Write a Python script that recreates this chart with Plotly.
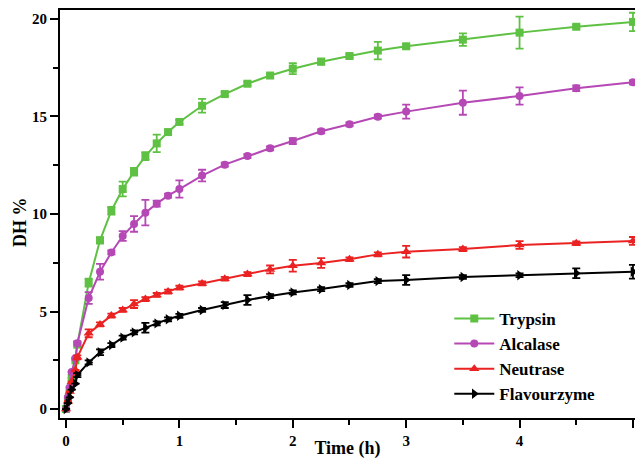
import plotly.graph_objects as go

time_h = [0, 0.017, 0.033, 0.05, 0.083, 0.1, 0.2, 0.3, 0.4, 0.5, 0.6, 0.7, 0.8, 0.9, 1.0,
          1.2, 1.4, 1.6, 1.8, 2.0, 2.25, 2.5, 2.75, 3.0, 3.5, 4.0, 4.5, 5.0]

trypsin = [0, 0.5, 1.0, 1.6, 2.5, 3.3, 6.48, 8.65, 10.17, 11.28, 12.17, 12.97, 13.62, 14.2, 14.72,
           15.55, 16.15, 16.68, 17.1, 17.45, 17.81, 18.1, 18.38, 18.6, 18.94, 19.3, 19.6, 19.85]
trypsin_err = [0, 0, 0, 0, 0, 0.1, 0.2, 0.15, 0.2, 0.38, 0.2, 0.2, 0.45, 0.1, 0.1,
               0.35, 0.1, 0.1, 0.1, 0.28, 0.15, 0.1, 0.45, 0.1, 0.32, 0.82, 0.1, 0.47]

alcalase = [0, 0.6, 1.1, 1.9, 2.6, 3.37, 5.69, 7.04, 8.03, 8.87, 9.49, 10.07, 10.53, 10.94, 11.28,
            11.97, 12.53, 12.97, 13.37, 13.74, 14.24, 14.6, 14.99, 15.25, 15.71, 16.05, 16.45, 16.75]
alcalase_err = [0, 0, 0, 0, 0, 0.1, 0.3, 0.4, 0.1, 0.25, 0.4, 0.65, 0.15, 0.1, 0.44,
                0.3, 0.1, 0.1, 0.1, 0.15, 0.1, 0.1, 0.1, 0.36, 0.62, 0.44, 0.15, 0.1]

neutrase = [0, 0.4, 0.9, 1.4, 2.0, 2.65, 3.88, 4.34, 4.79, 5.08, 5.38, 5.64, 5.85, 6.02, 6.22,
            6.44, 6.68, 6.92, 7.16, 7.35, 7.49, 7.68, 7.93, 8.07, 8.2, 8.41, 8.5, 8.62]
neutrase_err = [0, 0, 0, 0, 0, 0.1, 0.2, 0.1, 0.1, 0.1, 0.2, 0.1, 0.1, 0.1, 0.1,
                0.1, 0.1, 0.1, 0.2, 0.3, 0.25, 0.1, 0.1, 0.3, 0.1, 0.2, 0.1, 0.2]

flavourzyme = [0, 0.3, 0.6, 1.0, 1.3, 1.74, 2.39, 2.91, 3.28, 3.66, 3.93, 4.17, 4.39, 4.6, 4.78,
               5.08, 5.33, 5.59, 5.79, 5.98, 6.15, 6.36, 6.56, 6.62, 6.77, 6.86, 6.96, 7.04]
flavourzyme_err = [0, 0, 0, 0, 0, 0.1, 0.1, 0.15, 0.1, 0.1, 0.1, 0.25, 0.1, 0.1, 0.1,
                   0.1, 0.15, 0.25, 0.1, 0.1, 0.1, 0.1, 0.1, 0.25, 0.1, 0.1, 0.25, 0.35]

series = [
    ("Trypsin", trypsin, trypsin_err, "#5fc143", "square", 8),
    ("Alcalase", alcalase, alcalase_err, "#b548b5", "circle", 8),
    ("Neutrase", neutrase, neutrase_err, "#ea2222", "triangle-up", 9),
    ("Flavourzyme", flavourzyme, flavourzyme_err, "#000000", "triangle-right", 9),
]

FONT = "Liberation Serif"

fig = go.Figure()
for name, y, err, color, sym, size in series:
    fig.add_trace(go.Scatter(
        x=time_h, y=y, name="<b>%s</b>" % name, mode="lines+markers",
        line=dict(color=color, width=2),
        marker=dict(symbol=sym, size=size, color=color),
        error_y=dict(type="data", array=err, visible=True, color=color, thickness=1.8, width=4),
    ))

def tick_text(vals):
    return ["<b>%d</b>" % v for v in vals]

axis_common = dict(
    showline=True, linecolor="black", linewidth=2,
    ticks="outside", ticklen=8, tickwidth=2, tickcolor="black",
    showgrid=False, zeroline=False, automargin=False,
    tickfont=dict(family=FONT, size=15, color="black"),
    minor=dict(ticks="outside", ticklen=5, tickwidth=2, tickcolor="black"),
)

x_ticks = [0, 1, 2, 3, 4, 5]
y_ticks = [0, 5, 10, 15, 20]

fig.update_xaxes(
    range=[-0.053, 5.018], tickvals=x_ticks, ticktext=tick_text(x_ticks), mirror=True,
    title=dict(text="<b>Time (h)</b>", font=dict(family=FONT, size=18, color="black"), standoff=2),
    **axis_common,
)
fig.update_xaxes(minor=dict(tickvals=[0.5, 1.5, 2.5, 3.5, 4.5]))
fig.update_yaxes(
    range=[-0.46, 20.46], tickvals=y_ticks, ticktext=tick_text(y_ticks), mirror=False,
    **axis_common,
)
fig.update_yaxes(minor=dict(tickvals=[2.5, 7.5, 12.5, 17.5]))

fig.add_annotation(
    text="<b>DH %</b>", xref="paper", yref="paper", x=-0.07, y=0.48,
    textangle=-90, showarrow=False, xanchor="center", yanchor="middle",
    font=dict(family=FONT, size=18, color="black"),
)

fig.update_layout(
    width=635, height=459,
    margin=dict(l=60, r=0, t=10, b=41),
    plot_bgcolor="white", paper_bgcolor="white",
    font=dict(family=FONT, color="black"),
    legend=dict(
        x=0.677, y=0.287, xanchor="left", yanchor="top",
        bgcolor="rgba(0,0,0,0)",
        font=dict(family=FONT, size=17, color="black"),
        tracegroupgap=0, itemwidth=40,
    ),
)

fig.write_html("out.html")
